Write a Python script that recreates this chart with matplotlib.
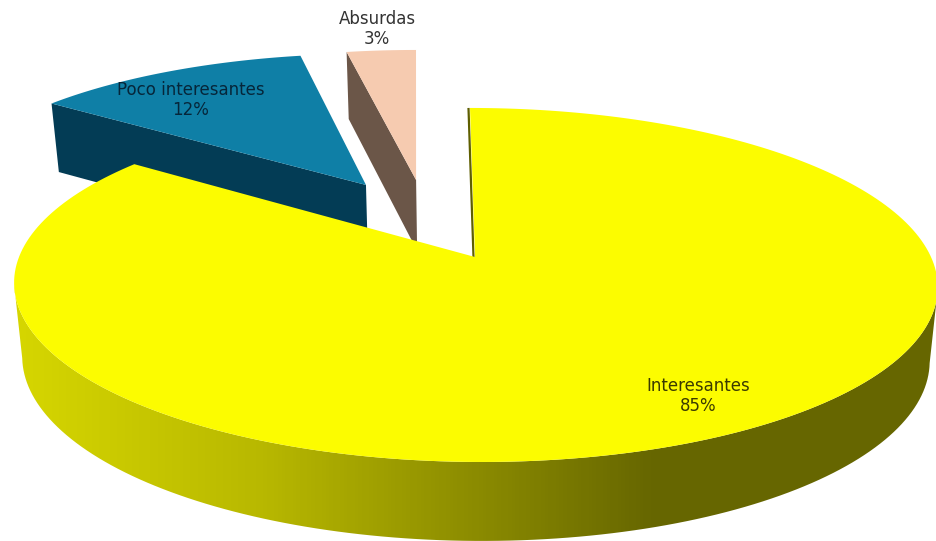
import matplotlib
matplotlib.use('Agg')
import matplotlib.pyplot as plt
from matplotlib.colors import LinearSegmentedColormap
from matplotlib.patches import Polygon
import numpy as np

# --- data ---
labels = ['Interesantes', 'Poco interesantes', 'Absurdas']
values = [85, 12, 3]
explode_u = [0.0, -0.256, -0.139]
explode_v = [0.0, 0.447, 0.48]
lean = [-5.8, -12.0, -9.4]
top_colors = ['#fcfc00', '#0f7fa6', '#f6cbb0']
wall_colors = ['#5f5f00', '#033c55', '#6b5648']
text_colors = ['#3a3a00', '#06263a', '#333333']
label_pos = [(698, 386), (191, 90), (377, 19)]

# --- camera (pixels of the 936x541 picture) ---
CX, K = 475.0, 0.158
TOP = dict(a=456.0, y0=257.0, b=172.6)
BOT = dict(a=448.0, y0=330.0, b=177.6)


def project(u, v, i, plane):
    uu = u + explode_u[i]
    vv = v + explode_v[i]
    w = 1 + K * vv
    x = CX + (plane['a'] * uu + lean[i] * v) / w
    y = plane['y0'] - plane['b'] * vv / w
    return np.column_stack([x, y])


def arc(t0, t1, i, plane):
    # angles clockwise from 12 o'clock
    t = np.radians(np.linspace(t0, t1, 240))
    return project(np.sin(t), np.cos(t), i, plane)


def apex(i, plane):
    return project(np.array([0.0]), np.array([0.0]), i, plane)


def front(i, plane):
    # front half of the rim, from its rightmost to its leftmost point
    rim = arc(0, 300, i, plane)
    return rim[np.argmax(rim[:, 0]):np.argmin(rim[:, 0]) + 1]


fig = plt.figure(figsize=(9.36, 5.41), dpi=100)
ax = fig.add_axes([0, 0, 1, 1])

edges = np.cumsum([0] + values) * 3.6

# exploded slices first, the big one goes on top of them
for i in [1, 2]:
    t0, t1 = edges[i], edges[i + 1]
    p_top = arc(t0, t0, i, TOP)[:1]
    p_bot = arc(t0, t0, i, BOT)[:1]
    wall = np.vstack([p_top, apex(i, TOP), apex(i, BOT), p_bot])
    ax.add_patch(Polygon(wall, closed=True, fc=wall_colors[i], ec='none'))
    surf = np.vstack([apex(i, TOP), arc(t0, t1, i, TOP)])
    ax.add_patch(Polygon(surf, closed=True, fc=top_colors[i], ec='none'))

# yellow side with left-to-right shading
t0, t1 = edges[0], edges[1]
band = np.vstack([front(0, TOP), front(0, BOT)[::-1]])
clip = Polygon(band, closed=True, fc='none', ec='none')
ax.add_patch(clip)
shade = LinearSegmentedColormap.from_list('shade', [(0, '#d8d800'), (0.28, '#b8b800'), (0.7, '#666600'), (1, '#666600')])
im = ax.imshow(np.linspace(0, 1, 936)[None, :], extent=[0, 936, 541, 0], aspect='auto', cmap=shade)
im.set_clip_path(clip)

# thin sliver of the cut face next to 12 o'clock
edge = np.vstack([apex(0, TOP), arc(0, 0, 0, TOP)[:1]])
ax.plot(edge[:, 0] - 1.5, edge[:, 1], color=wall_colors[0], lw=1.6, solid_capstyle='butt')

surf = np.vstack([apex(0, TOP), arc(t0, t1, 0, TOP)])
ax.add_patch(Polygon(surf, closed=True, fc=top_colors[0], ec='none', zorder=3))

for name, val, pos, col in zip(labels, values, label_pos, text_colors):
    ax.text(pos[0], pos[1], name, ha='center', va='center', fontsize=12, color=col, zorder=5)
    ax.text(pos[0], pos[1] + 20, f'{val}%', ha='center', va='center', fontsize=12, color=col, zorder=5)

ax.set_xlim(0, 936)
ax.set_ylim(541, 0)
ax.axis('off')
fig.savefig('out.png', dpi=100)
